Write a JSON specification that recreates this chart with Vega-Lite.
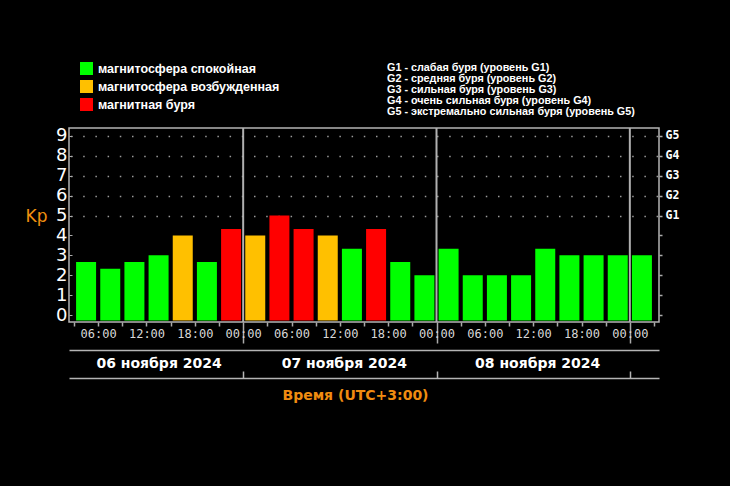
{
  "$schema": "https://vega.github.io/schema/vega-lite/v6.json",
  "width": 590,
  "height": 194,
  "autosize": {"type": "none"},
  "padding": {"left": 69, "top": 128, "right": 71, "bottom": 164},
  "background": "#000000",
  "config": {
    "view": {"stroke": "#b4b4b4", "strokeWidth": 1.5}
  },
  "title": {
    "text": [
      "G1 - слабая буря (уровень G1)",
      "G2 - средняя буря (уровень G2)",
      "G3 - сильная буря (уровень G3)",
      "G4 - очень сильная буря (уровень G4)",
      "G5 - экстремально сильная буря (уровень G5)"
    ],
    "anchor": "start",
    "frame": "group",
    "orient": "top",
    "dx": 318,
    "offset": -55,
    "font": "Liberation Sans",
    "fontSize": 10.8,
    "fontWeight": "bold",
    "color": "#ffffff",
    "lineHeight": 11
  },
  "layer": [
    {
      "data": {
        "values": [
          {"hour": 4.5, "kp": 2.67, "status": "магнитосфера спокойная"},
          {"hour": 7.5, "kp": 2.33, "status": "магнитосфера спокойная"},
          {"hour": 10.5, "kp": 2.67, "status": "магнитосфера спокойная"},
          {"hour": 13.5, "kp": 3.0, "status": "магнитосфера спокойная"},
          {"hour": 16.5, "kp": 4.0, "status": "магнитосфера возбужденная"},
          {"hour": 19.5, "kp": 2.67, "status": "магнитосфера спокойная"},
          {"hour": 22.5, "kp": 4.33, "status": "магнитная буря"},
          {"hour": 25.5, "kp": 4.0, "status": "магнитосфера возбужденная"},
          {"hour": 28.5, "kp": 5.0, "status": "магнитная буря"},
          {"hour": 31.5, "kp": 4.33, "status": "магнитная буря"},
          {"hour": 34.5, "kp": 4.0, "status": "магнитосфера возбужденная"},
          {"hour": 37.5, "kp": 3.33, "status": "магнитосфера спокойная"},
          {"hour": 40.5, "kp": 4.33, "status": "магнитная буря"},
          {"hour": 43.5, "kp": 2.67, "status": "магнитосфера спокойная"},
          {"hour": 46.5, "kp": 2.0, "status": "магнитосфера спокойная"},
          {"hour": 49.5, "kp": 3.33, "status": "магнитосфера спокойная"},
          {"hour": 52.5, "kp": 2.0, "status": "магнитосфера спокойная"},
          {"hour": 55.5, "kp": 2.0, "status": "магнитосфера спокойная"},
          {"hour": 58.5, "kp": 2.0, "status": "магнитосфера спокойная"},
          {"hour": 61.5, "kp": 3.33, "status": "магнитосфера спокойная"},
          {"hour": 64.5, "kp": 3.0, "status": "магнитосфера спокойная"},
          {"hour": 67.5, "kp": 3.0, "status": "магнитосфера спокойная"},
          {"hour": 70.5, "kp": 3.0, "status": "магнитосфера спокойная"},
          {"hour": 73.5, "kp": 3.0, "status": "магнитосфера спокойная"}
        ]
      },
      "mark": {"type": "bar", "size": 20, "orient": "vertical"},
      "encoding": {
        "x": {
          "field": "hour",
          "type": "quantitative",
          "scale": {"domain": [3, 75], "nice": false, "zero": false},
          "axis": {
            "orient": "bottom",
            "title": null,
            "values": [3, 6, 9, 12, 15, 18, 21, 24, 27, 30, 33, 36, 39, 42, 45, 48, 51, 54, 57, 60, 63, 66, 69, 72, 75],
            "labelExpr": "datum.value % 6 === 0 && datum.value >= 6 && datum.value <= 72 ? format(datum.value % 24, '02d') + ':00' : ''",
            "domain": false,
            "grid": false,
            "ticks": true,
            "tickColor": "#aaaaaa",
            "tickWidth": 1.5,
            "tickSize": {"condition": {"test": "datum.value % 24 === 0", "value": 21}, "value": 4},
            "labelPadding": {"condition": {"test": "datum.value % 24 === 0", "value": -15}, "value": 2},
            "labelFont": "DejaVu Sans Mono",
            "labelFontSize": 12,
            "labelColor": "#d8d8d8",
            "labelFlush": false,
            "labelOverlap": false
          }
        },
        "y": {
          "field": "kp",
          "type": "quantitative",
          "scale": {"domain": [-0.35, 9.4], "nice": false, "zero": false},
          "axis": {
            "orient": "left",
            "title": "Kp",
            "titleAngle": 0,
            "titleColor": "#f0900f",
            "titleFont": "DejaVu Sans",
            "titleFontSize": 17,
            "titleFontWeight": "normal",
            "titleX": -33,
            "titleY": 88,
            "titleAlign": "center",
            "titleBaseline": "middle",
            "values": [0, 1, 2, 3, 4, 5, 6, 7, 8, 9],
            "domain": false,
            "ticks": true,
            "tickSize": -3,
            "tickColor": "#aaaaaa",
            "labelColor": "#ffffff",
            "labelFont": "DejaVu Sans",
            "labelFontSize": 18,
            "labelPadding": 5,
            "grid": true,
            "gridColor": "#9a9a9a",
            "gridWidth": 1.5,
            "gridDash": [1.5, 10.7],
            "gridDashOffset": 10.7,
            "gridOpacity": {"condition": {"test": "datum.value >= 5", "value": 1}, "value": 0}
          }
        },
        "y2": {"datum": -0.28},
        "color": {
          "field": "status",
          "type": "nominal",
          "scale": {
            "domain": ["магнитосфера спокойная", "магнитосфера возбужденная", "магнитная буря"],
            "range": ["#00ff00", "#ffc000", "#ff0000"]
          },
          "legend": {
            "title": null,
            "orient": "none",
            "legendX": 11,
            "legendY": -66,
            "symbolType": "square",
            "symbolSize": 169,
            "symbolStrokeWidth": 0,
            "labelColor": "#ffffff",
            "labelFont": "Liberation Sans",
            "labelFontWeight": "bold",
            "labelFontSize": 12.5,
            "labelOffset": 5,
            "rowPadding": 5,
            "padding": 0,
            "labelLimit": 400
          }
        }
      }
    },
    {
      "data": {"values": [{"day": 24}, {"day": 48}, {"day": 72}]},
      "mark": {"type": "rule", "color": "#b0b0b0", "strokeWidth": 2},
      "encoding": {
        "x": {
          "field": "day",
          "type": "quantitative",
          "scale": {"domain": [3, 75], "nice": false, "zero": false},
          "axis": {
            "orient": "bottom",
            "title": null,
            "offset": 28,
            "domain": true,
            "domainColor": "#b4b4b4",
            "domainWidth": 1.5,
            "ticks": false,
            "grid": false,
            "values": [13.5, 36.5, 60.5],
            "labelExpr": "datum.value < 24 ? '06 ноября 2024' : datum.value < 48 ? '07 ноября 2024' : '08 ноября 2024'",
            "labelFont": "DejaVu Sans",
            "labelFontWeight": "bold",
            "labelFontSize": 14,
            "labelColor": "#ffffff",
            "labelPadding": 6,
            "labelFlush": false,
            "labelOverlap": false
          }
        }
      }
    },
    {
      "data": {"values": [{"day": 24, "level": 0}, {"day": 48, "level": 0}, {"day": 72, "level": 0}]},
      "mark": {"type": "point", "opacity": 0},
      "encoding": {
        "x": {
          "field": "day",
          "type": "quantitative",
          "scale": {"domain": [3, 75], "nice": false, "zero": false},
          "axis": {
            "orient": "bottom",
            "title": "Время (UTC+3:00)",
            "offset": 56,
            "domain": true,
            "domainColor": "#b4b4b4",
            "domainWidth": 1.5,
            "ticks": true,
            "tickSize": -7,
            "tickColor": "#b4b4b4",
            "tickWidth": 1.5,
            "values": [24, 48, 72],
            "labels": false,
            "grid": false,
            "titleColor": "#f08c10",
            "titleFont": "DejaVu Sans",
            "titleFontSize": 14,
            "titleFontWeight": "bold",
            "titlePadding": 10,
            "titleX": 286
          }
        },
        "y": {
          "field": "level",
          "type": "quantitative",
          "scale": {"domain": [-0.35, 9.4], "nice": false, "zero": false},
          "axis": {
            "orient": "right",
            "title": null,
            "values": [0, 1, 2, 3, 4, 5, 6, 7, 8, 9],
            "domain": false,
            "ticks": true,
            "tickSize": 3,
            "tickColor": "#aaaaaa",
            "tickWidth": 1.5,
            "grid": false,
            "labelExpr": "datum.value >= 5 ? 'G' + (datum.value - 4) : ''",
            "labelFont": "DejaVu Sans Mono",
            "labelFontWeight": "bold",
            "labelFontSize": 11.5,
            "labelColor": "#ffffff",
            "labelPadding": 3
          }
        }
      }
    }
  ],
  "resolve": {"axis": {"x": "independent", "y": "independent"}}
}
